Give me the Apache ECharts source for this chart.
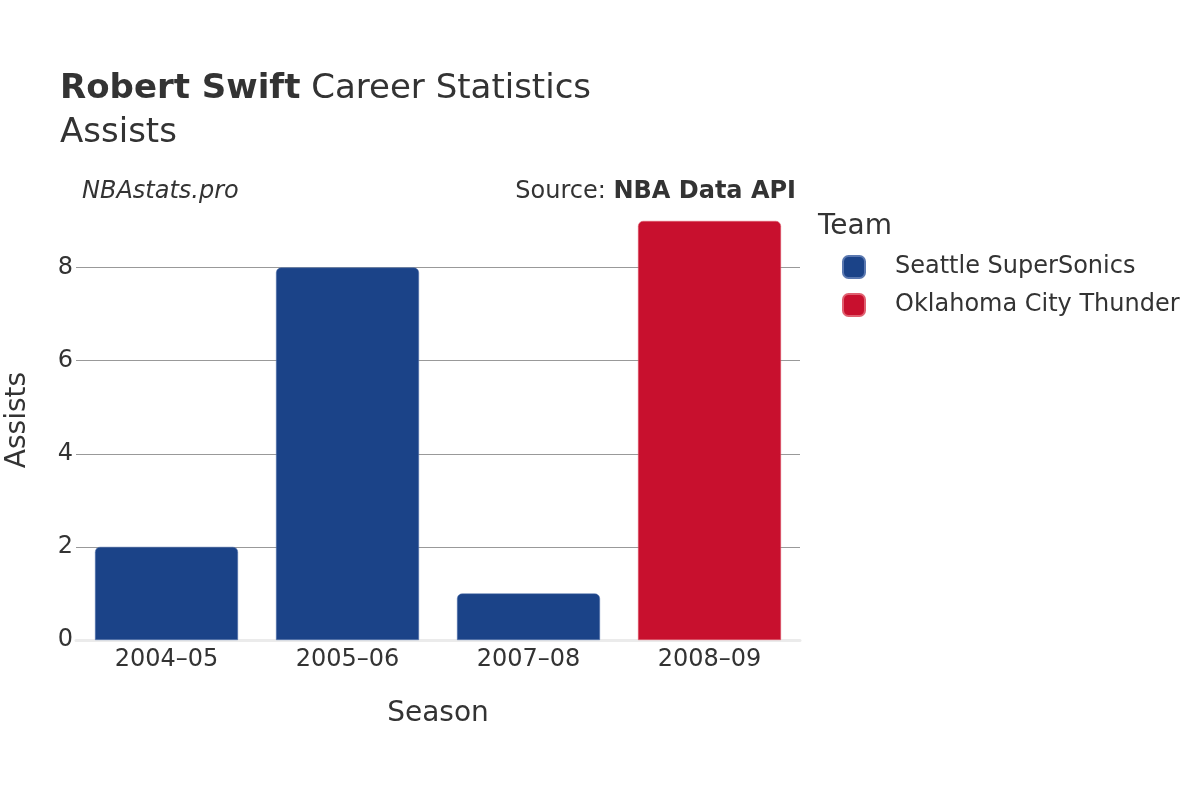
<!DOCTYPE html>
<html>
<head>
<meta charset="utf-8">
<script src="https://cdn.jsdelivr.net/npm/echarts@6/dist/echarts.min.js"></script>
<style>
  html, body { margin: 0; padding: 0; background: #fff; }
  #chart { width: 1200px; height: 800px; }
</style>
</head>
<body>
<div id="chart"></div>
<script>
  // data
  var seasons = ['2004–05', '2005–06', '2007–08', '2008–09'];
  var teams = ['Seattle SuperSonics', 'Oklahoma City Thunder'];
  var sonicsAssists = [2, 8, 1, null];
  var thunderAssists = [null, null, null, 9];
  var teamColors = ['#1B4388', '#C8102E'];

  var font = 'DejaVu Sans';
  var chart = echarts.init(document.getElementById('chart'));

  chart.setOption({
    animation: false,
    textStyle: { fontFamily: font },
    graphic: [
      {
        type: 'text', left: 60, top: 72,
        style: {
          text: '{b|Robert Swift} Career Statistics',
          rich: { b: { fontWeight: 'bold', fontSize: 34, fill: '#333', fontFamily: font } },
          fontSize: 34, fill: '#333', fontFamily: font
        }
      },
      { type: 'text', left: 60, top: 116, style: { text: 'Assists', fontSize: 34, fill: '#333', fontFamily: font } },
      { type: 'text', left: 82, top: 180, style: { text: 'NBAstats.pro', fontSize: 24, fontStyle: 'italic', fill: '#333', fontFamily: font } },
      {
        type: 'text', right: 404, top: 180,
        style: {
          text: 'Source: {b|NBA Data API}',
          rich: { b: { fontWeight: 'bold', fontSize: 24, fill: '#333', fontFamily: font } },
          fontSize: 24, fill: '#333', fontFamily: font
        }
      },
      { type: 'text', left: 818, top: 213, style: { text: 'Team', fontSize: 28, fill: '#333', fontFamily: font } }
    ],
    legend: {
      orient: 'vertical',
      left: 837,
      top: 250,
      itemWidth: 22,
      itemHeight: 22,
      itemGap: 14,
      icon: 'roundRect',
      data: teams,
      textStyle: { fontSize: 24, color: '#333', padding: [0, 0, 0, 25] }
    },
    grid: { left: 76, right: 400, top: 200, bottom: 160, outerBoundsMode: 'none' },
    xAxis: {
      type: 'category',
      data: seasons,
      name: 'Season',
      nameLocation: 'middle',
      nameGap: 60,
      nameTextStyle: { fontSize: 28, color: '#333' },
      axisLine: { lineStyle: { color: '#ebebeb', width: 3 } },
      axisTick: { show: false },
      axisLabel: { fontSize: 24, color: '#333', margin: 8 }
    },
    yAxis: {
      type: 'value',
      min: 0,
      max: 9.45,
      interval: 2,
      name: 'Assists',
      nameLocation: 'middle',
      nameGap: 44,
      nameTextStyle: { fontSize: 28, color: '#333' },
      axisLine: { show: false },
      axisTick: { show: false },
      axisLabel: { fontSize: 24, color: '#333', margin: 3, showMaxLabel: false },
      splitLine: { showMinLine: false, showMaxLine: false, lineStyle: { color: '#999', width: 1 } }
    },
    series: [
      {
        name: teams[0],
        type: 'bar',
        stack: 'team',
        barWidth: '79%',
        data: sonicsAssists,
        itemStyle: { color: teamColors[0], borderRadius: [5, 5, 0, 0], borderColor: '#5a78b0', borderWidth: 0.5 }
      },
      {
        name: teams[1],
        type: 'bar',
        stack: 'team',
        barWidth: '79%',
        data: thunderAssists,
        itemStyle: { color: teamColors[1], borderRadius: [5, 5, 0, 0], borderColor: '#e06070', borderWidth: 0.5 }
      }
    ]
  });
</script>
</body>
</html>
